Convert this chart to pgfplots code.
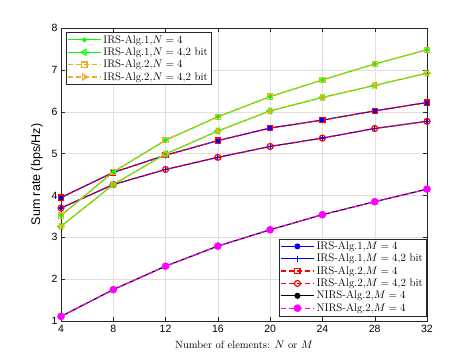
\documentclass[border=0pt]{standalone}
\usepackage{pgfplots}
\pgfplotsset{compat=1.18}
\usepackage{fontspec}
\newfontfamily\hel{Liberation Sans}

\definecolor{mgreen}{rgb}{0,1,0}
\definecolor{morange}{rgb}{0.929,0.694,0.125}
\definecolor{mblue}{rgb}{0,0,1}
\definecolor{mred}{rgb}{1,0,0}
\definecolor{mmag}{rgb}{1,0,1}
\definecolor{mgrid}{rgb}{0.88,0.88,0.88}
\definecolor{maxis}{rgb}{0.15,0.15,0.15}

\pgfplotsset{
  base/.style={
    scale only axis, width=366pt, height=293pt,
    at={(0,0)}, anchor=south west,
    xmin=4, xmax=32, ymin=1, ymax=8,
    xtick={4,8,...,32}, ytick={1,...,8},
    tick align=inside, tick style={maxis, thin},
    axis line style={maxis, thin},
    legend cell align=left,
    legend style={font=\fontsize{11}{13}\selectfont, draw=maxis, fill=white, inner sep=1pt, row sep=-1pt},
    legend image code/.code={\draw[mark repeat=2,mark phase=2,##1] plot coordinates {(0cm,0cm) (0.58cm,0cm) (1.16cm,0cm)};},
  },
  every axis plot/.append style={line width=1.2pt, mark size=2.2pt},
  dsh/.style={dash pattern=on 5pt off 3pt},
}

\pgfplotstableread{
x  a1    a1b   b1    b1b   ni
4  3.52  3.26  3.95  3.70  1.11
8  4.56  4.26  4.55  4.26  1.75
12 5.32  4.99  4.96  4.62  2.31
16 5.88  5.54  5.31  4.91  2.79
20 6.36  6.02  5.61  5.17  3.18
24 6.76  6.34  5.80  5.37  3.54
28 7.14  6.63  6.02  5.60  3.85
32 7.48  6.92  6.22  5.77  4.15
}\data

\begin{document}
\begin{tikzpicture}
\path[use as bounding box] (-61pt,-39pt) rectangle (410pt,321pt);
\begin{axis}[base,
    grid=major, major grid style={mgrid, thin},
    ticklabel style={font=\hel\fontsize{10.5}{12}\selectfont}, /pgf/number format/assume math mode=true,
    xticklabel style={yshift=-1pt},
    xlabel={Number of elements: $N$ or $M$},
    ylabel={Sum rate (bps/Hz)},
    xlabel style={font=\fontsize{10.5}{12}\selectfont, yshift=-1pt},
    ylabel style={font=\hel\fontsize{12.5}{14}\selectfont, yshift=2pt},
    legend style={at={(1,0.017)}, anchor=south east, xshift=-1pt},
  ]
  \addplot[mblue, mark=*, mark size=2.4pt] table[x=x,y=b1] {\data};
  \addlegendentry{IRS-Alg.1,$M=4$}
  \addplot[mblue, mark=+, mark size=3pt] table[x=x,y=b1b] {\data};
  \addlegendentry{IRS-Alg.1,$M=4$,2 bit}
  \addplot[mred, dsh, mark=square, mark size=2.6pt, mark options={solid}] table[x=x,y=b1] {\data};
  \addlegendentry{IRS-Alg.2,$M=4$}
  \addplot[mred, dsh, mark=o, mark size=3pt, mark options={solid}] table[x=x,y=b1b] {\data};
  \addlegendentry{IRS-Alg.2,$M=4$,2 bit}
  \addplot[black, mark=*, mark size=2.4pt] table[x=x,y=ni] {\data};
  \addlegendentry{NIRS-Alg.2,$M=4$}
  \addplot[mmag, dsh, mark=*, mark size=3.2pt, mark options={solid}] table[x=x,y=ni] {\data};
  \addlegendentry{NIRS-Alg.2,$M=4$}
\end{axis}
\begin{axis}[base,
    hide axis,
    legend style={at={(0,1)}, anchor=north west, xshift=5pt, yshift=-4pt},
  ]
  \addplot[mgreen, mark=*, mark size=1.8pt] table[x=x,y=a1] {\data};
  \addlegendentry{IRS-Alg.1,$N=4$}
  \addplot[mgreen, mark=triangle, mark size=3.2pt, mark options={rotate=90}] table[x=x,y=a1b] {\data};
  \addlegendentry{IRS-Alg.1,$N=4$,2 bit}
  \addplot[morange, dsh, mark=square, mark size=2.6pt, mark options={solid}] table[x=x,y=a1] {\data};
  \addlegendentry{IRS-Alg.2,$N=4$}
  \addplot[morange, dsh, mark=triangle, mark size=3.4pt, mark options={solid, rotate=-90}] table[x=x,y=a1b] {\data};
  \addlegendentry{IRS-Alg.2,$N=4$,2 bit}
\end{axis}
\end{tikzpicture}
\end{document}
